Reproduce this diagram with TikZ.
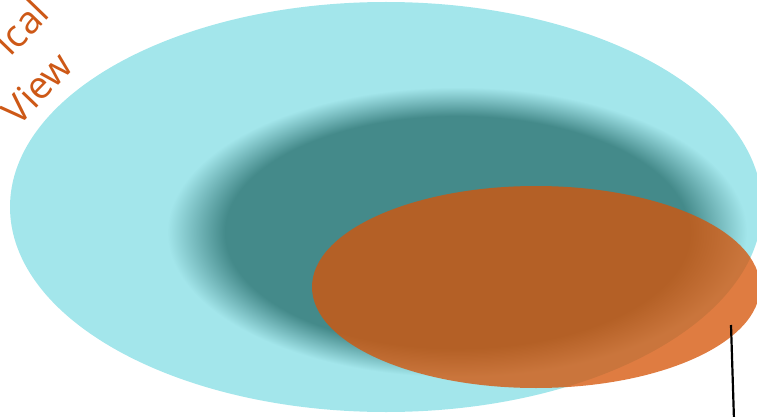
\documentclass[tikz,border=0pt]{standalone}
\usepackage{fontspec}
\setmainfont{Open Sans}
\definecolor{cyanbg}{RGB}{163,230,235}
\definecolor{tealc}{RGB}{68,138,138}
\definecolor{tealmid}{RGB}{116,184,187}
\definecolor{orangec}{RGB}{214,84,8}
\definecolor{textor}{RGB}{205,88,22}
\pgfdeclareradialshading{blurteal}{\pgfpoint{0bp}{0bp}}{color(0bp)=(tealc); color(20bp)=(tealc); color(22.5bp)=(tealmid); color(25bp)=(cyanbg); color(50bp)=(cyanbg)}
\tikzset{
  lbl/.style={text=textor, font=\fontsize{38}{44}\selectfont, rotate=46, inner sep=0pt},
  lead/.style={draw=black, line width=2.2pt}
}
\begin{document}
\begin{tikzpicture}[x=1pt,y=-1pt]
\useasboundingbox (0,0) rectangle (757,417);
\fill[cyanbg] (386,207) ellipse [x radius=376, y radius=205];
\shade[shading=blurteal] (457,232) ellipse [x radius=290, y radius=145];
\fill[orangec, fill opacity=0.77] (536,287) ellipse [x radius=224, y radius=101];
\node[lbl] (t1) at (21,27) {ical};
\node[lbl] (t2) at (37,88) {View};
\coordinate (lt) at (731,325);
\coordinate (lb) at (734,420);
\draw[lead] (lt) -- (lb);
\end{tikzpicture}
\end{document}
